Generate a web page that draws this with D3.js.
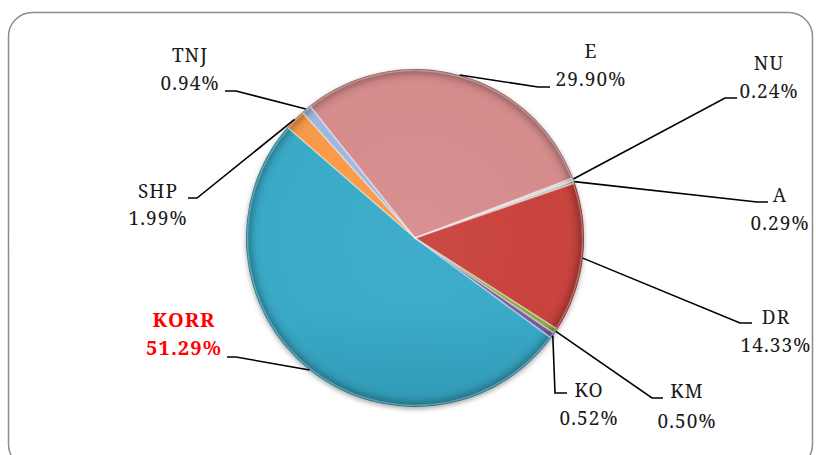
<!DOCTYPE html>
<html>
<head>
<meta charset="utf-8">
<script src="https://cdnjs.cloudflare.com/ajax/libs/d3/7.8.5/d3.min.js"></script>
<style>
    html, body { margin: 0; padding: 0; background: #ffffff; }
    #testbed { width: 816px; height: 455px; overflow: hidden; }
    text { font-family: "Noto Serif", "Liberation Serif", serif; letter-spacing: 1.1px; }
</style>
</head>
<body>
<div id="testbed"></div>
<script>

//Chart data (clockwise from the top of the E slice)
var categories = ["E", "NU", "A", "DR", "KM", "KO", "KORR", "SHP", "TNJ"];
var shares = [29.90, 0.24, 0.29, 14.33, 0.50, 0.52, 51.29, 1.99, 0.94];
var shareLabels = ["29.90%", "0.24%", "0.29%", "14.33%", "0.50%", "0.52%", "51.29%", "1.99%", "0.94%"];

//Slice colours (light top, dark bottom)
var lightColors = ["#d78c8c", "#cfcfcf", "#bdbdbd", "#c9433e", "#8bab45", "#7a5aa0", "#38aac8", "#f99a48", "#9fb8df"];
var darkColors = ["#a46464", "#a3a3a3", "#909090", "#8e2725", "#5a7329", "#4e386e", "#21758c", "#d0701f", "#7790bf"];

//Label layout: text centre x, name baseline, value baseline, elbow and end of leader
var labelLayout = {
    "E":    {tx: 591, ny: 58,  vy: 86,  ex: 538, ey: 87,  hx: 550},
    "NU":   {tx: 769, ny: 70,  vy: 98,  ex: 725, ey: 98,  hx: 737},
    "A":    {tx: 780, ny: 202, vy: 230, ex: 757, ey: 202, hx: 768},
    "DR":   {tx: 776, ny: 324, vy: 352, ex: 740, ey: 323, hx: 752},
    "KM":   {tx: 687, ny: 398, vy: 428, ex: 652, ey: 398, hx: 663},
    "KO":   {tx: 589, ny: 397, vy: 425, ex: 555, ey: 393, hx: 567},
    "KORR": {tx: 184, ny: 327, vy: 355, ex: 236, ey: 357, hx: 227},
    "SHP":  {tx: 158, ny: 198, vy: 225, ex: 197, ey: 198, hx: 188},
    "TNJ":  {tx: 190, ny: 62,  vy: 90,  ex: 236, ey: 91,  hx: 225}
};

//System dimensions
var width = 816;
var height = 455;
var cx = 415;
var cy = 238;
var radius = 169;
var startAngle = -38.5 * Math.PI / 180;

var slices = categories.map(function(d, i) {
    return {name: d, value: shares[i], label: shareLabels[i], index: i};
});

//Main Canvas
var svg = d3.select("#testbed")
    .append("svg")
    .attr("width", width)
    .attr("height", height);

var defs = svg.append("defs");

//Vertical gradient for every slice, in page coordinates
slices.forEach(function(d) {
    var g = defs.append("linearGradient")
        .attr("id", "grad" + d.index)
        .attr("gradientUnits", "userSpaceOnUse")
        .attr("x1", 0).attr("y1", cy - radius)
        .attr("x2", 0).attr("y2", cy + radius);
    g.append("stop").attr("offset", "0%").attr("stop-color", lightColors[d.index]);
    g.append("stop").attr("offset", "100%").attr("stop-color", darkColors[d.index]);
});

//Bevel around the rim
var bevel = defs.append("radialGradient")
    .attr("id", "bevel")
    .attr("gradientUnits", "userSpaceOnUse")
    .attr("cx", 0).attr("cy", 0).attr("r", radius);
bevel.append("stop").attr("offset", "0%").attr("stop-color", "#ffffff").attr("stop-opacity", 0.04);
bevel.append("stop").attr("offset", "88%").attr("stop-color", "#ffffff").attr("stop-opacity", 0);
bevel.append("stop").attr("offset", "95%").attr("stop-color", "#000000").attr("stop-opacity", 0.06);
bevel.append("stop").attr("offset", "100%").attr("stop-color", "#000000").attr("stop-opacity", 0.32);

var shadow = defs.append("filter")
    .attr("id", "shadow")
    .attr("x", "-20%").attr("y", "-20%")
    .attr("width", "140%").attr("height", "140%");
shadow.append("feDropShadow")
    .attr("dx", 0).attr("dy", 2)
    .attr("stdDeviation", 2.5)
    .attr("flood-color", "#000000")
    .attr("flood-opacity", 0.35);

//Rounded frame
svg.append("rect")
    .attr("x", 8.5)
    .attr("y", 12.5)
    .attr("width", 804)
    .attr("height", 456)
    .attr("rx", 24)
    .attr("ry", 24)
    .style("fill", "#ffffff")
    .style("stroke", "#8c8c8c")
    .style("stroke-width", 1.5);

var pie = d3.pie()
    .sort(null)
    .value(function(d) {
        return d.value;
    })
    .startAngle(startAngle)
    .endAngle(startAngle + 2 * Math.PI);

var arc = d3.arc()
    .innerRadius(0)
    .outerRadius(radius);

var arcs = pie(slices);

var chart = svg.append("g")
    .attr("transform", "translate(" + cx + "," + cy + ")");

chart.append("g")
    .attr("filter", "url(#shadow)")
    .selectAll("path")
    .data(arcs)
    .enter()
    .append("path")
    .attr("d", arc)
    .style("fill", function(d) {
        return "url(#grad" + d.data.index + ")";
    })
    .style("stroke", "none");

//Rim shading
chart.append("circle")
    .attr("r", radius)
    .style("fill", "url(#bevel)");

//Light edges between slices
chart.append("g")
    .selectAll("path")
    .data(arcs)
    .enter()
    .append("path")
    .attr("d", d3.arc().innerRadius(0).outerRadius(radius - 1.5))
    .style("fill", "none")
    .style("stroke", "#ffffff")
    .style("stroke-opacity", 0.3)
    .style("stroke-width", 1.5)
    .style("stroke-linejoin", "round");

//Leader lines
var edge = d3.arc().innerRadius(radius).outerRadius(radius);

svg.append("g")
    .selectAll("polyline")
    .data(arcs)
    .enter()
    .append("polyline")
    .attr("points", function(d) {
        var p = edge.centroid(d);
        var l = labelLayout[d.data.name];
        return [[cx + p[0], cy + p[1]], [l.ex, l.ey], [l.hx, l.ey]].join(" ");
    })
    .style("fill", "none")
    .style("stroke", "#000000")
    .style("stroke-width", 1.6);

//Labels
var labels = svg.append("g")
    .selectAll("g")
    .data(slices)
    .enter()
    .append("g")
    .style("fill", function(d) {
        return d.name == "KORR" ? "#ff0000" : "#1a1a1a";
    })
    .style("font-weight", function(d) {
        return d.name == "KORR" ? "bold" : "normal";
    })
    .style("font-size", function(d) {
        return d.name == "KORR" ? "20px" : "19px";
    })
    .attr("text-anchor", "middle");

labels.append("text")
    .attr("x", function(d) {
        return labelLayout[d.name].tx;
    })
    .attr("y", function(d) {
        return labelLayout[d.name].ny;
    })
    .text(function(d) {
        return d.name;
    });

labels.append("text")
    .attr("x", function(d) {
        return labelLayout[d.name].tx;
    })
    .attr("y", function(d) {
        return labelLayout[d.name].vy;
    })
    .text(function(d) {
        return d.label;
    });

</script>
</body>
</html>
